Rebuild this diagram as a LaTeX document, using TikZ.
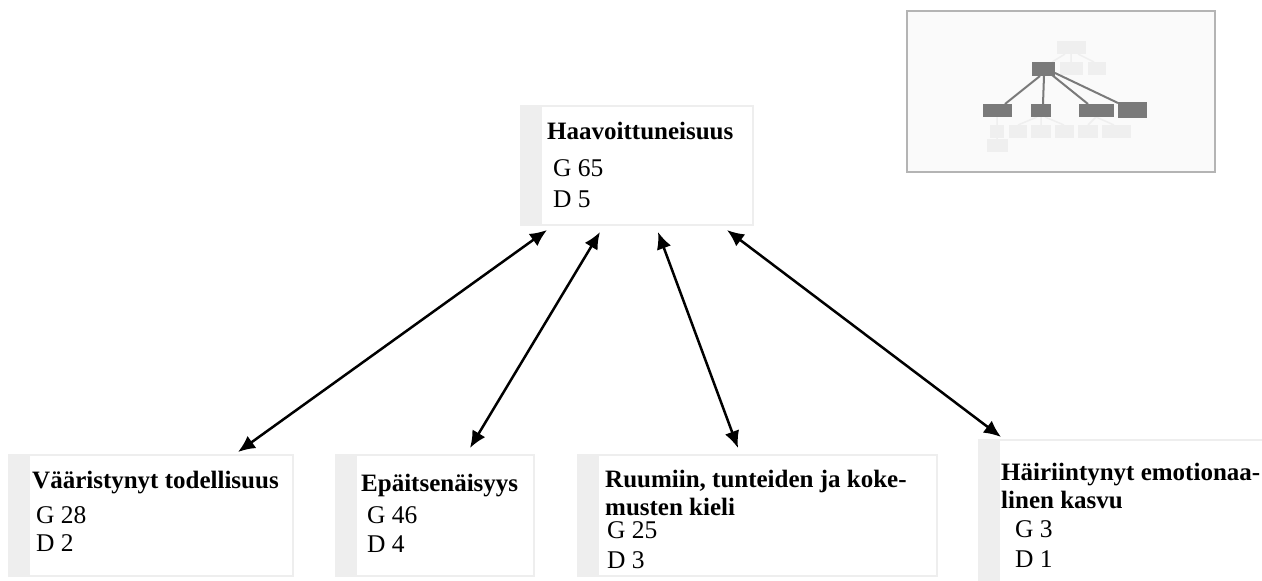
\documentclass[tikz,border=0pt]{standalone}
\usepackage{fontspec}
\setmainfont{Liberation Serif}
\usetikzlibrary{arrows.meta,calc}
\definecolor{framegray}{HTML}{EEEEEE}
\definecolor{stripgray}{HTML}{EEEEEE}
\definecolor{mapframe}{HTML}{B4B4B4}
\definecolor{mapback}{HTML}{FAFAFA}
\definecolor{mapdark}{HTML}{7A7A7A}
\definecolor{maplight}{HTML}{EFEFEF}
\tikzset{
  concept/.style={draw=framegray, line width=2pt, fill=white, anchor=north west, inner sep=0pt,
    path picture={\fill[stripgray] (path picture bounding box.north west) rectangle ([xshift=21pt]path picture bounding box.south west);}},
  title/.style={anchor=base west, inner sep=0pt, font=\fontsize{25}{28}\selectfont\bfseries, align=left},
  count/.style={anchor=base west, inner sep=0pt, font=\fontsize{25.5}{30}\selectfont},
  link/.style={{Latex[length=17pt,width=15pt]}-{Latex[length=17pt,width=15pt]}, line width=2.5pt},
}
\begin{document}
\begin{tikzpicture}[x=1pt, y=-1pt]
        \clip (0,0) rectangle (1262,581);
        \fill[white] (0,0) rectangle (1262,581);
        % overview map
        \filldraw[fill=mapback, draw=mapframe, line width=2.5pt] (907,11) rectangle (1215,172);
        \draw[maplight, line width=1.5pt] (1071,54)--(1071,62) (1065,54)--(1052,62) (1078,54)--(1094,62)
                (997,117)--(997,139) (1041,117)--(1041,125) (1037,117)--(1018,125) (1045,117)--(1064,125)
                (1096,117)--(1088,125) (1096,117)--(1114,125);
        \foreach \a/\b/\c/\d in {1057/41/1086/54, 1060/62/1083/75, 1088/62/1106/75,
                990/125/1004/138, 1009/125/1027/138, 1031/125/1051/138, 1055/125/1074/138,
                1078/125/1098/138, 1102/125/1131/138, 987/139/1008/152}
        {
                \fill[maplight] (\a,\b) rectangle (\c,\d);
        }
        \draw[mapdark, line width=2pt] (1040,76)--(1005,104) (1044,76)--(1043,104)
                (1052,75)--(1088,104) (1055,73)--(1118,103);
        \foreach \a/\b/\c/\d in {1032/62/1055/76, 983/104/1012/117, 1031/104/1051/117,
                1079/104/1114/117, 1118/102/1147/118}
        {
                \fill[mapdark] (\a,\b) rectangle (\c,\d);
        }
        % concepts
        \node[concept, minimum width=232pt, minimum height=119pt] (haav) at (520,105) {};
        \node[concept, minimum width=284pt, minimum height=121pt] (vaar) at (8,454) {};
        \node[concept, minimum width=198pt, minimum height=121pt] (epai) at (335,454) {};
        \node[concept, minimum width=359pt, minimum height=121pt] (ruum) at (577,454) {};
        \node[concept, minimum width=300pt, minimum height=160pt] (hair) at (978,439) {};
        \node[title] (haav-t) at (547,139) {Haavoittuneisuus};
        \node[count] (haav-g) at (553,176) {G 65};
        \node[count] (haav-d) at (553,207) {D 5};
        \node[title] (vaar-t) at (32,488) {Vääristynyt todellisuus};
        \node[count] (vaar-g) at (36,523) {G 28};
        \node[count] (vaar-d) at (36,551) {D 2};
        \node[title] (epai-t) at (361,491) {Epäitsenäisyys};
        \node[count] (epai-g) at (367,523) {G 46};
        \node[count] (epai-d) at (367,552) {D 4};
        \node[title] (ruum-t) at (605,515) {Ruumiin, tunteiden ja koke-\\musten kieli};
        \node[count] (ruum-g) at (607,538) {G 25};
        \node[count] (ruum-d) at (607,568) {D 3};
        \node[title] (hair-t) at (1001,508) {Häiriintynyt emotionaa-\\linen kasvu};
        \node[count] (hair-g) at (1015,537) {G 3};
        \node[count] (hair-d) at (1015,567) {D 1};
        % links
        \draw[link] ($(haav.south west)+(27,4)$) -- ($(vaar.north west)+(230,-2)$);
        \draw[link] ($(haav.south west)+(80,6)$) -- ($(epai.north west)+(135,-6)$);
        \draw[link] ($(haav.south west)+(138,6)$) -- ($(ruum.north west)+(161,-6)$);
        \draw[link] ($(haav.south west)+(207,4)$) -- ($(hair.north west)+(23,-2)$);
\end{tikzpicture}
\end{document}
